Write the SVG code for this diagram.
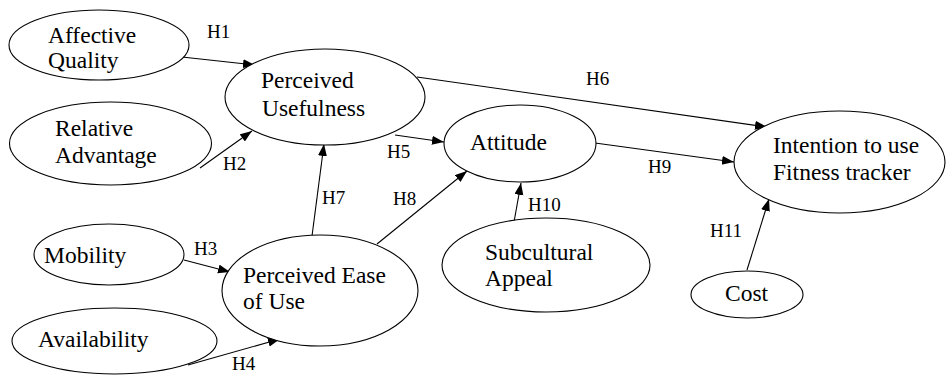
<svg xmlns="http://www.w3.org/2000/svg" width="946" height="376" viewBox="0 0 946 376">
<style>
.n ellipse{fill:#fff;stroke:#000;stroke-width:1.1}
.n text{font-size:23.5px;fill:#000}
.lbl{font-size:19px;fill:#000}
.c line{stroke:#000;stroke-width:1.1;marker-end:url(#ah)}
</style>
<defs>
<marker id="ah" markerUnits="userSpaceOnUse" markerWidth="13" markerHeight="10" refX="12" refY="4.5" orient="auto">
<path d="M0,0 L12,4.5 L0,9 z" fill="#000"/>
</marker>
</defs>
<rect width="946" height="376" fill="#fff"/>
<g font-family="'Liberation Serif', 'DejaVu Serif', serif">
<g id="connectors" class="c">
<line x1="182" y1="57" x2="255" y2="65"/>
<line x1="200" y1="168" x2="252" y2="131"/>
<line x1="184" y1="260" x2="230" y2="272"/>
<line x1="188" y1="365" x2="280" y2="339"/>
<line x1="312" y1="236" x2="324" y2="144"/>
<line x1="395" y1="135" x2="444" y2="142"/>
<line x1="377" y1="244" x2="467" y2="171"/>
<line x1="514" y1="222" x2="521" y2="183"/>
<line x1="417" y1="77" x2="767" y2="127"/>
<line x1="595" y1="143" x2="734" y2="162"/>
<line x1="747" y1="270" x2="769" y2="199"/>
</g>
<g id="labels">
<text class="lbl" x="207" y="38">H1</text>
<text class="lbl" x="223" y="170">H2</text>
<text class="lbl" x="194" y="255">H3</text>
<text class="lbl" x="232" y="370">H4</text>
<text class="lbl" x="387" y="158">H5</text>
<text class="lbl" x="586" y="85">H6</text>
<text class="lbl" x="322" y="204">H7</text>
<text class="lbl" x="393" y="205">H8</text>
<text class="lbl" x="648" y="173">H9</text>
<text class="lbl" x="528" y="211">H10</text>
<text class="lbl" x="710" y="237">H11</text>
</g>
<g id="affective-quality" class="n">
<ellipse cx="99" cy="45" rx="90" ry="35"/>
<text x="48" y="43">Affective</text>
<text x="48" y="68">Quality</text>
</g>
<g id="relative-advantage" class="n">
<ellipse cx="110.5" cy="143.5" rx="101" ry="41.5"/>
<text x="55" y="136">Relative</text>
<text x="55" y="163">Advantage</text>
</g>
<g id="perceived-usefulness" class="n">
<ellipse cx="325" cy="97" rx="100" ry="48"/>
<text x="261" y="88">Perceived</text>
<text x="262" y="116">Usefulness</text>
</g>
<g id="attitude" class="n">
<ellipse cx="520" cy="143.5" rx="76" ry="38.5"/>
<text x="470" y="150">Attitude</text>
</g>
<g id="intention" class="n">
<ellipse cx="839.5" cy="162" rx="105.5" ry="51"/>
<text x="773" y="153">Intention to use</text>
<text x="773" y="180">Fitness tracker</text>
</g>
<g id="mobility" class="n">
<ellipse cx="109" cy="254.5" rx="75" ry="30.5"/>
<text x="44" y="263">Mobility</text>
</g>
<g id="perceived-ease" class="n">
<ellipse cx="320" cy="290.5" rx="98" ry="55.5"/>
<text x="243" y="283">Perceived Ease</text>
<text x="243" y="309">of Use</text>
</g>
<g id="availability" class="n">
<ellipse cx="114.5" cy="341" rx="102.5" ry="33"/>
<text x="38" y="347">Availability</text>
</g>
<g id="subcultural-appeal" class="n">
<ellipse cx="546" cy="265" rx="104" ry="47"/>
<text x="485" y="260">Subcultural</text>
<text x="485" y="286">Appeal</text>
</g>
<g id="cost" class="n">
<ellipse cx="747" cy="294.5" rx="56" ry="23.5"/>
<text x="725" y="301">Cost</text>
</g>
</g>
</svg>
